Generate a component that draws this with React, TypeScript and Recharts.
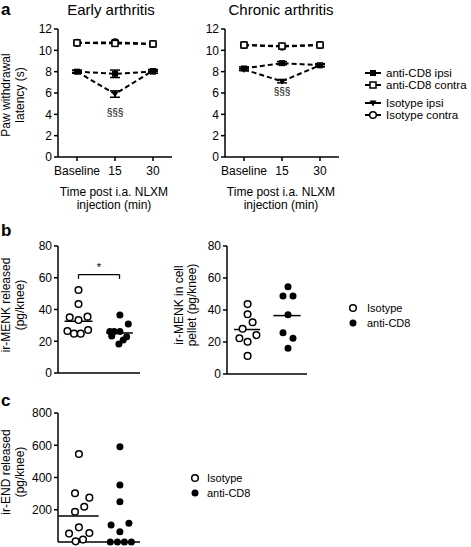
import React from "react";
import {
  LineChart,
  Line,
  ScatterChart,
  Scatter,
  XAxis,
  YAxis,
  ErrorBar,
  ReferenceLine,
  ReferenceDot,
} from "recharts";

const FONT = '"Liberation Sans", Arial, Helvetica, sans-serif';

// panel a: paw withdrawal latency (s)
const timePoints = ["Baseline", "15", "30"];

const earlyCd8Ipsi = [8.0, 7.8, 8.0];
const earlyCd8IpsiSem = [0.15, 0.35, 0.15];
const earlyCd8Contra = [10.7, 10.65, 10.6];
const earlyIsoIpsi = [8.0, 5.9, 8.1];
const earlyIsoIpsiSem = [0.1, 0.3, 0.1];
const earlyIsoContra = [10.7, 10.75, 10.6];

const chronicCd8Ipsi = [8.3, 8.8, 8.6];
const chronicCd8IpsiSem = [0.15, 0.15, 0.15];
const chronicCd8Contra = [10.5, 10.4, 10.5];
const chronicIsoIpsi = [8.2, 7.1, 8.6];
const chronicIsoIpsiSem = [0.1, 0.15, 0.1];
const chronicIsoContra = [10.5, 10.35, 10.5];

// panel b: ir-MENK released (pg/knee), group position 1 = Isotype, 3 = anti-CD8
const releasedIsoY = [52.3, 43.5, 35.1, 33.4, 35.5, 26.5, 24.8, 24.8, 27.1];
const releasedIsoX = [1.0, 1.0, 0.57, 1.0, 1.44, 0.46, 0.78, 1.11, 1.47];
const releasedCd8Y = [36.6, 30.9, 26.1, 26.1, 26.1, 23.3, 22.9, 20.8, 18.3];
const releasedCd8X = [3.02, 3.43, 2.53, 2.74, 3.02, 2.62, 3.35, 3.18, 2.97];
const releasedMeans = [32.6, 25.2];

// panel b: ir-MENK in cell pellet (pg/knee)
const pelletIsoY = [43.7, 37.3, 32.3, 28.3, 22.3, 20.2, 24.3, 11.3];
const pelletIsoX = [1.03, 1.03, 1.28, 0.78, 0.62, 1.03, 1.47, 1.03];
const pelletCd8Y = [54.6, 48.8, 48.8, 37.1, 25.8, 22.3, 16.1];
const pelletCd8X = [3.05, 2.8, 3.3, 3.05, 2.8, 3.3, 3.05];
const pelletMeans = [27.8, 36.5];

// panel c: ir-END released (pg/knee)
const endIsoY = [546, 302, 275, 219, 188, 91, 52, 56, 15, 4];
const endIsoX = [1.02, 0.83, 1.53, 1.28, 0.83, 1.02, 0.54, 1.53, 1.22, 0.86];
const endCd8Y = [591, 353, 250, 105, 116, 64, 0, 0, 0, 0];
const endCd8X = [3.02, 3.02, 3.02, 2.59, 3.46, 3.02, 2.55, 2.9, 3.24, 3.58];
const endMeans = [161];

const tickStyle = { fill: "#000", fontSize: 12, fontFamily: FONT };
const axisLine = { stroke: "#000", strokeWidth: 1.5 };

const filledSquare = (p: any) => (
  <rect key={`fs-${p.index}`} x={p.cx - 3} y={p.cy - 3} width={6} height={6} fill="#000" />
);
const openSquare = (p: any) => (
  <rect key={`os-${p.index}`} x={p.cx - 3} y={p.cy - 3} width={6} height={6} fill="#fff" stroke="#000" strokeWidth={1.5} />
);
const filledTriangle = (p: any) => (
  <polygon
    key={`ft-${p.index}`}
    points={`${p.cx - 3.5},${p.cy - 2.5} ${p.cx + 3.5},${p.cy - 2.5} ${p.cx},${p.cy + 3.5}`}
    fill="#000"
  />
);
const openCircle = (p: any) => (
  <circle key={`oc-${p.index}`} cx={p.cx} cy={p.cy} r={3.3} fill="#fff" stroke="#000" strokeWidth={1.5} />
);
const filledCircle = (p: any) => (
  <circle key={`fc-${p.index}`} cx={p.cx} cy={p.cy} r={3.5} fill="#000" />
);

interface TimeCourseProps {
  left: number;
  cd8Ipsi: number[];
  cd8IpsiSem: number[];
  cd8Contra: number[];
  isoIpsi: number[];
  isoIpsiSem: number[];
  isoContra: number[];
  markY: number;
}

const TimeCourse = (props: TimeCourseProps) => {
  const data = timePoints.map((t, i) => ({
    t,
    cd8Ipsi: props.cd8Ipsi[i],
    cd8IpsiSem: props.cd8IpsiSem[i],
    cd8Contra: props.cd8Contra[i],
    isoIpsi: props.isoIpsi[i],
    isoIpsiSem: props.isoIpsiSem[i],
    isoContra: props.isoContra[i],
  }));
  const dash = "5 3";
  return (
    <div style={{ position: "absolute", left: props.left, top: 0 }}>
      <LineChart width={180} height={180} data={data} margin={{ top: 29, right: 8, left: 28, bottom: 3 }}>
        <XAxis
          dataKey="t"
          padding={{ left: 19, right: 19 }}
          height={20}
          interval={0}
          tickSize={4}
          tickMargin={5}
          stroke="#000"
          axisLine={axisLine}
          tickLine={{ stroke: "#000", strokeWidth: 1.5 }}
          tick={tickStyle}
        />
        <YAxis
          domain={[0, 12]}
          ticks={[0, 2, 4, 6, 8, 10, 12]}
          width={30}
          tickSize={4}
          tickMargin={2}
          stroke="#000"
          axisLine={axisLine}
          tickLine={{ stroke: "#000", strokeWidth: 1.5 }}
          tick={tickStyle}
        />
        <Line dataKey="isoContra" stroke="#000" strokeWidth={2} strokeDasharray={dash} dot={openCircle} activeDot={false} isAnimationActive={false} />
        <Line dataKey="cd8Contra" stroke="#000" strokeWidth={2} strokeDasharray={dash} dot={openSquare} activeDot={false} isAnimationActive={false} />
        <Line dataKey="isoIpsi" stroke="#000" strokeWidth={2} strokeDasharray={dash} dot={filledTriangle} activeDot={false} isAnimationActive={false}>
          <ErrorBar dataKey="isoIpsiSem" width={5} stroke="#000" strokeWidth={1.5} direction="y" />
        </Line>
        <Line dataKey="cd8Ipsi" stroke="#000" strokeWidth={2} strokeDasharray={dash} dot={filledSquare} activeDot={false} isAnimationActive={false}>
          <ErrorBar dataKey="cd8IpsiSem" width={5} stroke="#000" strokeWidth={1.5} direction="y" />
        </Line>
        <ReferenceDot
          x="15"
          y={props.markY}
          r={0}
          stroke="none"
          label={{ value: "§§§", position: "center", fontSize: 10, fill: "#000", fontFamily: FONT }}
        />
      </LineChart>
    </div>
  );
};

interface DotPlotProps {
  axisX: number;
  plotTop: number;
  plotH: number;
  plotW: number;
  yMax: number;
  ticks: number[];
  isoX: number[];
  isoY: number[];
  cd8X: number[];
  cd8Y: number[];
  means: number[];
  meanHalf: number[];
  bottom?: number;
  children?: React.ReactNode;
}

const DotPlot = (props: DotPlotProps) => {
  const iso = props.isoY.map((y, i) => ({ x: props.isoX[i], y }));
  const cd8 = props.cd8Y.map((y, i) => ({ x: props.cd8X[i], y }));
  const bottom = props.bottom ?? 9;
  const centers = [1, 3];
  return (
    <div style={{ position: "absolute", left: props.axisX - 58, top: props.plotTop - 10 }}>
      <ScatterChart
        width={58 + props.plotW + 8}
        height={10 + props.plotH + 1 + bottom}
        margin={{ top: 10, right: 8, left: 28, bottom }}
      >
        <XAxis type="number" dataKey="x" domain={[0, 4]} height={1} tick={false} tickLine={false} axisLine={axisLine} />
        <YAxis
          type="number"
          dataKey="y"
          domain={[0, props.yMax]}
          ticks={props.ticks}
          width={30}
          tickSize={4}
          tickMargin={2}
          stroke="#000"
          axisLine={axisLine}
          tickLine={{ stroke: "#000", strokeWidth: 1.5 }}
          tick={tickStyle}
        />
        {props.means.map((m, i) => (
          <ReferenceLine
            key={`m-${i}`}
            segment={[
              { x: centers[i] - props.meanHalf[i], y: m },
              { x: centers[i] + props.meanHalf[i], y: m },
            ]}
            stroke="#000"
            strokeWidth={1.5}
          />
        ))}
        <Scatter data={iso} shape={openCircle} isAnimationActive={false} />
        <Scatter data={cd8} shape={filledCircle} isAnimationActive={false} />
        {props.children}
      </ScatterChart>
    </div>
  );
};

const RotLabel = ({ x, y, text }: { x: number; y: number; text: string }) => (
  <text x={x} y={y} transform={`rotate(-90 ${x} ${y})`} textAnchor="middle" fontSize={12} fontFamily={FONT}>
    {text}
  </text>
);

const App = () => {
  const legendA = [
    { label: "anti-CD8 ipsi", y: 73, mark: filledSquare },
    { label: "anti-CD8 contra", y: 85, mark: openSquare },
    { label: "Isotype ipsi", y: 103, mark: filledTriangle },
    { label: "Isotype contra", y: 115, mark: openCircle },
  ];
  return (
    <div
      style={{
        position: "absolute",
        left: 0,
        top: 0,
        width: 471,
        height: 547,
        overflow: "hidden",
        background: "#fff",
        fontFamily: FONT,
      }}
    >
      <TimeCourse
        left={0}
        cd8Ipsi={earlyCd8Ipsi}
        cd8IpsiSem={earlyCd8IpsiSem}
        cd8Contra={earlyCd8Contra}
        isoIpsi={earlyIsoIpsi}
        isoIpsiSem={earlyIsoIpsiSem}
        isoContra={earlyIsoContra}
        markY={4.2}
      />
      <TimeCourse
        left={167}
        cd8Ipsi={chronicCd8Ipsi}
        cd8IpsiSem={chronicCd8IpsiSem}
        cd8Contra={chronicCd8Contra}
        isoIpsi={chronicIsoIpsi}
        isoIpsiSem={chronicIsoIpsiSem}
        isoContra={chronicIsoContra}
        markY={6.1}
      />
      <DotPlot
        axisX={58}
        plotTop={246}
        plotH={127}
        plotW={82}
        yMax={80}
        ticks={[0, 20, 40, 60, 80]}
        isoX={releasedIsoX}
        isoY={releasedIsoY}
        cd8X={releasedCd8X}
        cd8Y={releasedCd8Y}
        means={releasedMeans}
        meanHalf={[0.68, 0.65]}
      >
        <ReferenceLine segment={[{ x: 1, y: 62 }, { x: 3, y: 62 }]} stroke="#000" strokeWidth={1.3} />
        <ReferenceLine segment={[{ x: 1, y: 62 }, { x: 1, y: 59.3 }]} stroke="#000" strokeWidth={1.3} />
        <ReferenceLine segment={[{ x: 3, y: 62 }, { x: 3, y: 59.3 }]} stroke="#000" strokeWidth={1.3} />
        <ReferenceDot
          x={2}
          y={66.5}
          r={0}
          stroke="none"
          label={{ value: "*", position: "center", fontSize: 11, fill: "#000", fontFamily: FONT }}
        />
      </DotPlot>
      <DotPlot
        axisX={227}
        plotTop={246}
        plotH={128}
        plotW={80}
        yMax={80}
        ticks={[0, 20, 40, 60, 80]}
        isoX={pelletIsoX}
        isoY={pelletIsoY}
        cd8X={pelletCd8X}
        cd8Y={pelletCd8Y}
        means={pelletMeans}
        meanHalf={[0.65, 0.68]}
      />
      <DotPlot
        axisX={58}
        plotTop={413}
        plotH={129}
        plotW={82}
        yMax={800}
        ticks={[0, 200, 400, 600, 800]}
        isoX={endIsoX}
        isoY={endIsoY}
        cd8X={endCd8X}
        cd8Y={endCd8Y}
        means={endMeans}
        meanHalf={[0.98]}
        bottom={3}
      />
      <svg
        width={471}
        height={547}
        style={{ position: "absolute", left: 0, top: 0, pointerEvents: "none" }}
        fontFamily={FONT}
      >
        <text x={1} y={15} fontSize={17} fontWeight="bold">a</text>
        <text x={1} y={236} fontSize={17} fontWeight="bold">b</text>
        <text x={1} y={406} fontSize={17} fontWeight="bold">c</text>

        <text x={111} y={15} fontSize={15} textAnchor="middle">Early arthritis</text>
        <text x={281} y={15} fontSize={15} textAnchor="middle">Chronic arthritis</text>

        <text x={114} y={196} fontSize={12} textAnchor="middle">Time post i.a. NLXM</text>
        <text x={114} y={209} fontSize={12} textAnchor="middle">injection (min)</text>
        <text x={281} y={196} fontSize={12} textAnchor="middle">Time post i.a. NLXM</text>
        <text x={281} y={209} fontSize={12} textAnchor="middle">injection (min)</text>

        <RotLabel x={10} y={95} text="Paw withdrawal" />
        <RotLabel x={24} y={95} text="latency (s)" />
        <RotLabel x={10} y={305} text="ir-MENK released" />
        <RotLabel x={24} y={305} text="(pg/knee)" />
        <RotLabel x={183} y={305} text="ir-MENK in cell" />
        <RotLabel x={196} y={305} text="pellet (pg/knee)" />
        <RotLabel x={10} y={472} text="ir-END released" />
        <RotLabel x={24} y={472} text="(pg/knee)" />

        {legendA.map((e, i) => (
          <g key={`la-${i}`}>
            <line x1={365} x2={381} y1={e.y} y2={e.y} stroke="#000" strokeWidth={2} />
            {e.mark({ cx: 373, cy: e.y, index: i })}
            <text x={386} y={e.y + 4} fontSize={11.5}>{e.label}</text>
          </g>
        ))}

        {openCircle({ cx: 353, cy: 308, index: 0 })}
        <text x={367} y={312} fontSize={11}>Isotype</text>
        {filledCircle({ cx: 353, cy: 323, index: 1 })}
        <text x={367} y={327} fontSize={11}>anti-CD8</text>

        {openCircle({ cx: 195, cy: 478, index: 2 })}
        <text x={207} y={482} fontSize={11}>Isotype</text>
        {filledCircle({ cx: 195, cy: 493, index: 3 })}
        <text x={207} y={497} fontSize={11}>anti-CD8</text>
      </svg>
    </div>
  );
};

export default App;
